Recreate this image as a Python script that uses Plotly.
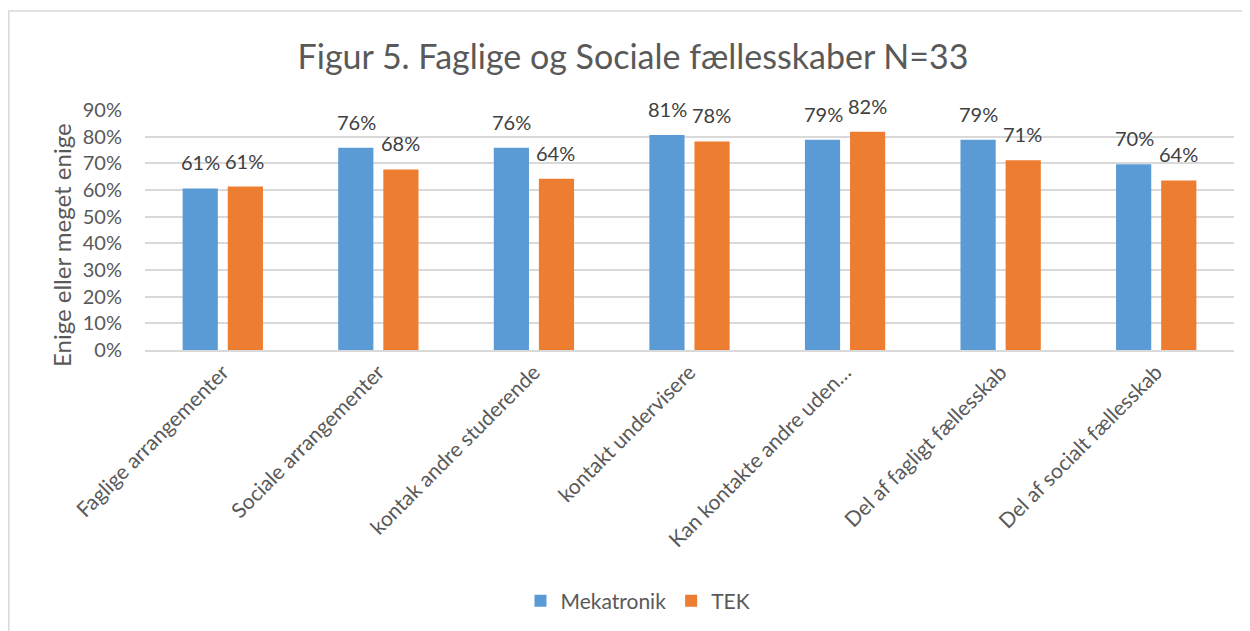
import plotly.graph_objects as go

categories = [
    "Faglige arrangementer",
    "Sociale arrangementer",
    "kontak andre studerende",
    "kontakt undervisere",
    "Kan kontakte andre uden…",
    "Del af fagligt fællesskab",
    "Del af socialt fællesskab",
]
mekatronik = [0.606, 0.758, 0.758, 0.806, 0.788, 0.788, 0.697]
tek = [0.613, 0.677, 0.642, 0.782, 0.818, 0.712, 0.636]
series_names = ["Mekatronik", "TEK"]
series_colors = ["#5B9BD5", "#ED7D31"]
tick_vals = [0, 0.1, 0.2, 0.3, 0.4, 0.5, 0.6, 0.7, 0.8, 0.9]
tick_text = ["0%", "10%", "20%", "30%", "40%", "50%", "60%", "70%", "80%", "90%"]

FONT = "Lato, 'Open Sans', sans-serif"
TXT = "#595959"

# page body has an 8px offset; figure sized so it fills the window
OFF = 8
W, H = 1250 - OFF, 631 - OFF
L, R, T, B = 145 - OFF, W - (1234 - OFF), 110 - OFF, H - (350 - OFF)
pw, ph = W - L - R, H - T - B

def px_x(x):
    return (x - OFF - L) / pw

def px_y(y):
    return (H - B - (y - OFF)) / ph

fig = go.Figure()
annotations = []
for i, (name, vals, color) in enumerate(zip(series_names, [mekatronik, tek], series_colors)):
    fig.add_trace(go.Bar(
        x=categories, y=vals, name=name,
        marker=dict(color=color, line=dict(width=0)),
        cliponaxis=False,
    ))
    for c, v in zip(categories, vals):
        annotations.append(dict(
            x=c, y=v, xref="x", yref="y", text=f"{round(v * 100)}%", showarrow=False,
            xshift=(-22 if i == 0 else 22), yshift=12, yanchor="bottom", xanchor="center",
            font=dict(size=20, color="#404040", family=FONT),
        ))

annotations.append(dict(
    text="Enige eller meget enige", textangle=-90, showarrow=False,
    xref="paper", yref="paper", x=px_x(61), y=px_y(245), xanchor="center", yanchor="middle",
    font=dict(size=24, color=TXT, family=FONT),
))

fig.update_layout(
    width=W, height=H,
    margin=dict(l=L, r=R, t=T, b=B, autoexpand=False),
    paper_bgcolor="white", plot_bgcolor="white",
    font=dict(family=FONT, color=TXT),
    title=dict(text="Figur 5. Faglige og Sociale fællesskaber N=33",
               x=(633 - OFF) / W, xanchor="center", xref="container",
               y=1 - (57 - OFF) / H, yanchor="middle", yref="container",
               font=dict(size=34, color=TXT, family=FONT)),
    barmode="group", bargap=0.42, bargroupgap=0.22,
    showlegend=True,
    legend=dict(orientation="h", x=px_x(638), xanchor="center", y=px_y(601), yanchor="middle",
                font=dict(size=21, color=TXT, family=FONT), itemwidth=30,
                traceorder="normal"),
    xaxis=dict(tickangle=-45, tickfont=dict(size=21, color=TXT, family=FONT),
               showline=True, linecolor="#D9D9D9", linewidth=1.5, ticks="", showgrid=False),
    yaxis=dict(range=[0, 0.9], tickvals=tick_vals, ticktext=tick_text,
               tickfont=dict(size=20, color=TXT, family=FONT),
               showgrid=True, gridcolor="#D9D9D9", gridwidth=1.5, zeroline=False,
               showline=False, ticks="outside", ticklen=18, tickcolor="rgba(0,0,0,0)"),
    annotations=annotations,
    shapes=[dict(type="rect", xref="paper", yref="paper",
                 x0=px_x(8.8), x1=px_x(1290), y0=px_y(680), y1=px_y(11),
                 line=dict(color="#D9D9D9", width=1.5), fillcolor="rgba(0,0,0,0)", layer="below")],
)

fig.write_html("out.html")
